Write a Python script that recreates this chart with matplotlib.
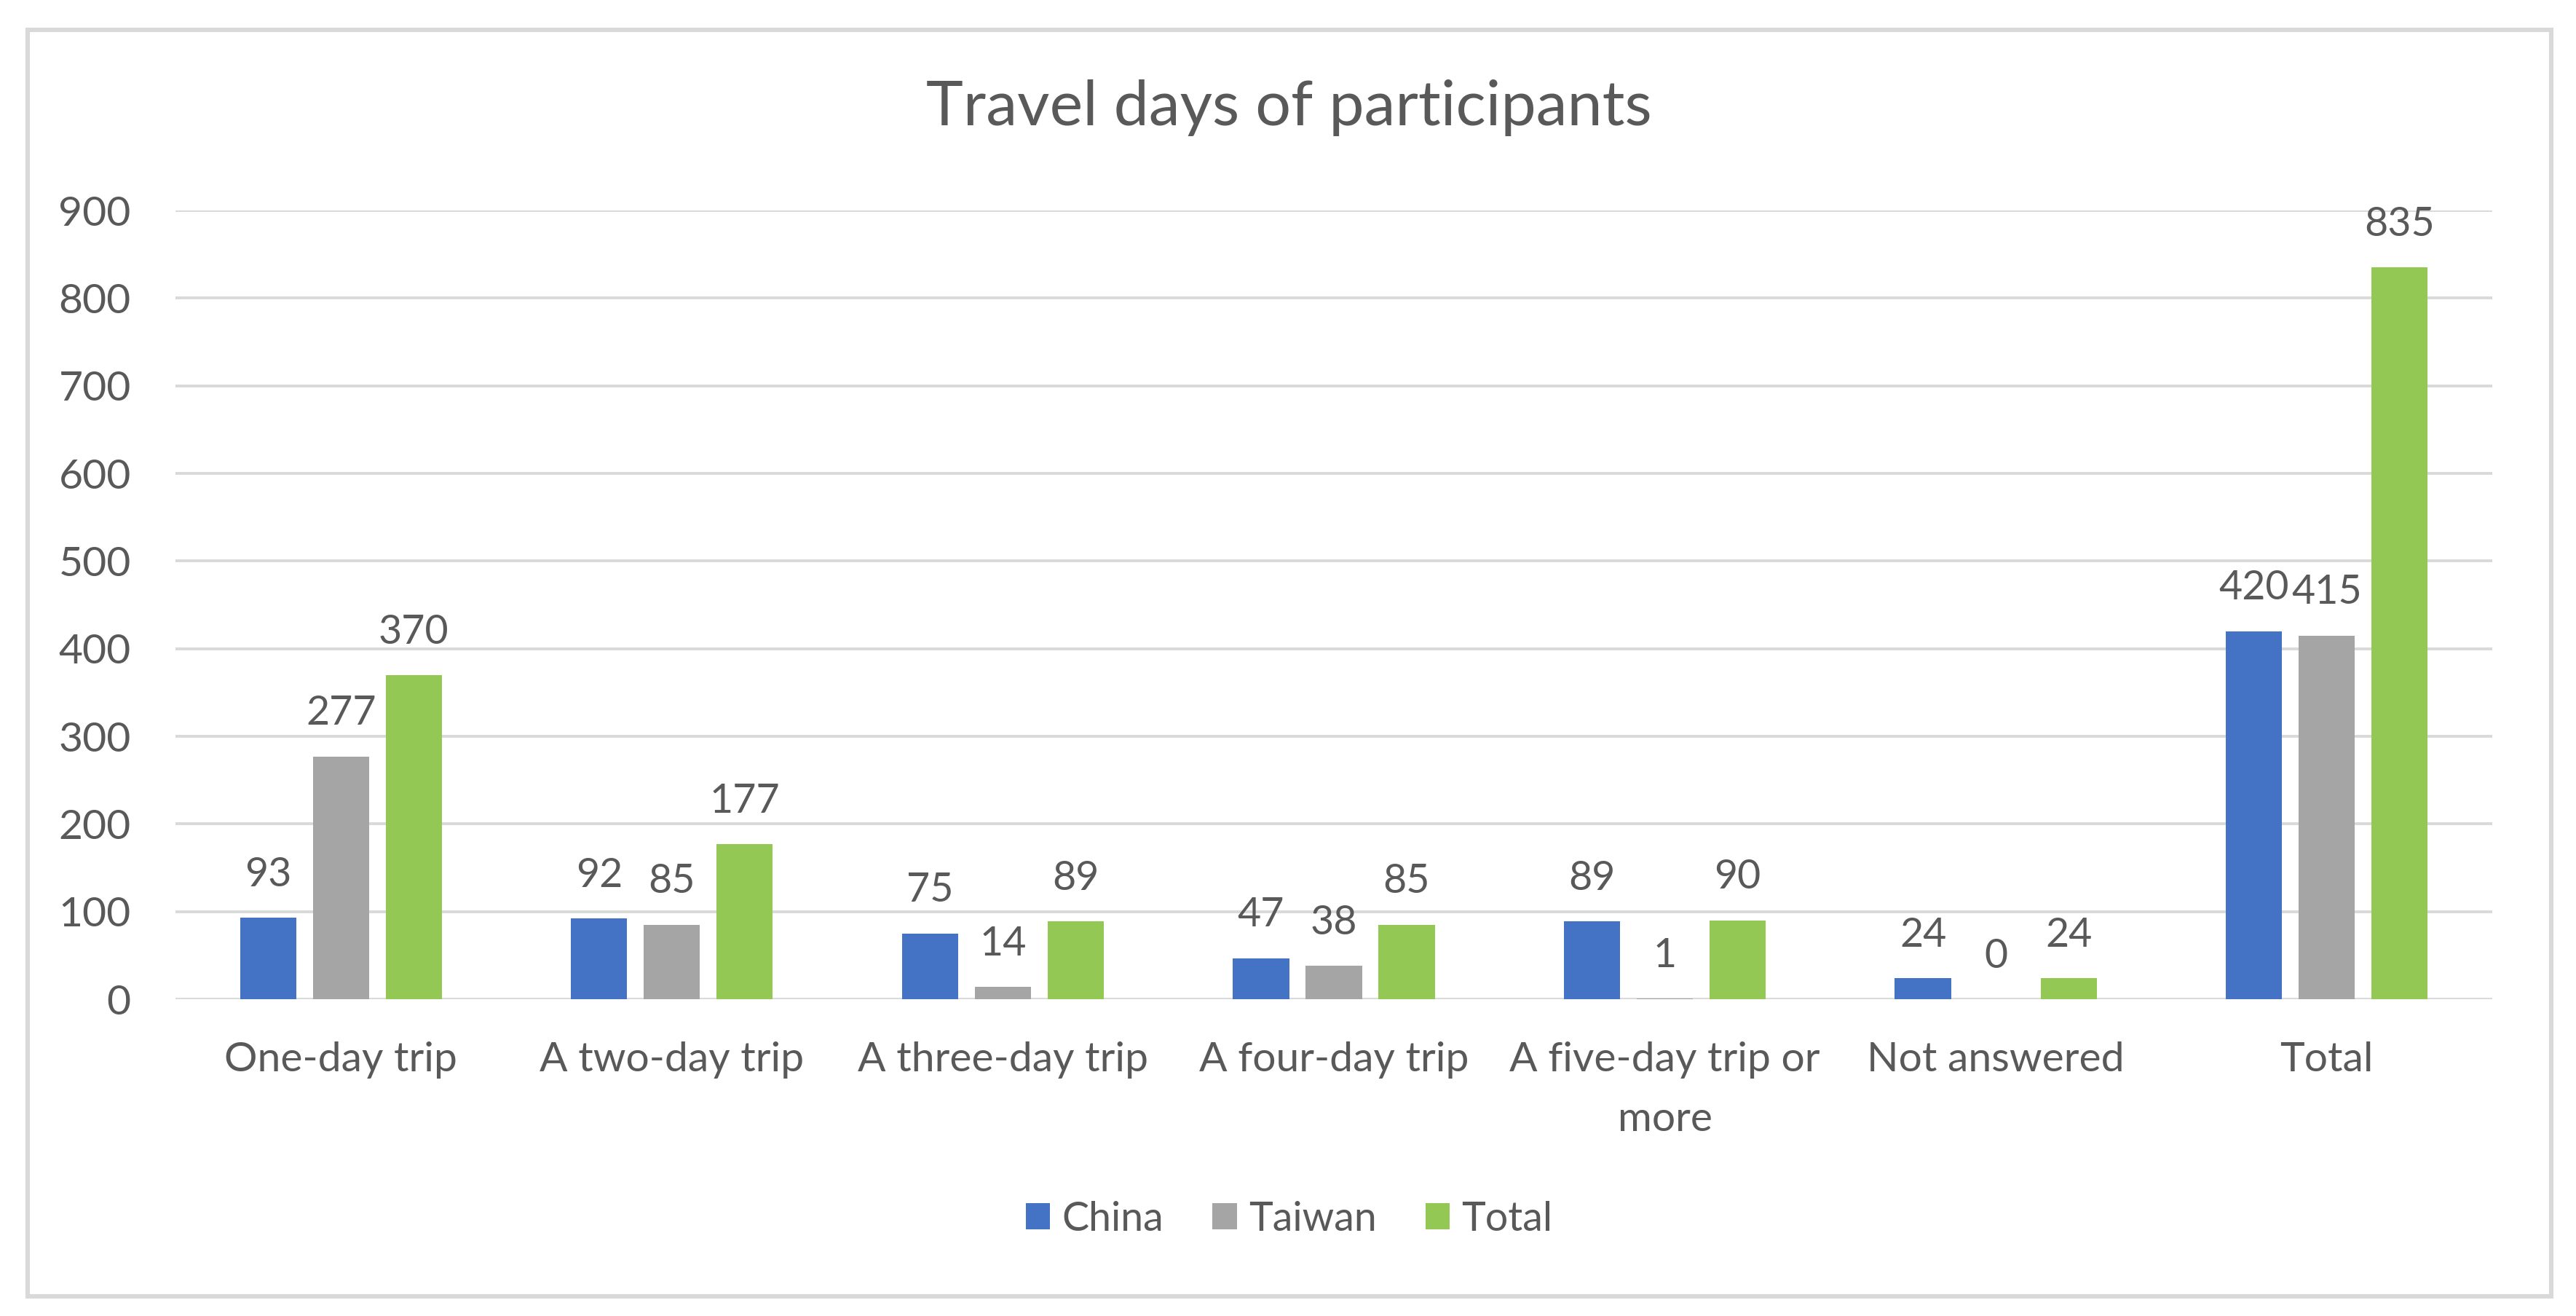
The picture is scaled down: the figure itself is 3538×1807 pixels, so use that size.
import matplotlib
matplotlib.use("Agg")
from matplotlib import pyplot as plt
from matplotlib.patches import Rectangle
import numpy as np

plt.rcParams['font.family'] = ['Lato', 'DejaVu Sans']

categories = ["One-day trip", "A two-day trip", "A three-day trip", "A four-day trip",
              "A five-day trip or\nmore", "Not answered", "Total"]
china = [93, 92, 75, 47, 89, 24, 420]
taiwan = [277, 85, 14, 38, 1, 0, 415]
total = [370, 177, 89, 85, 90, 24, 835]
yticks = [0, 100, 200, 300, 400, 500, 600, 700, 800, 900]

text_color = "#595959"
grid_color = "#D9D9D9"

fig = plt.figure(figsize=(3538 / 200, 1807 / 200), dpi=200)
ax = fig.add_axes([0.0681, 0.2407, 0.8994, 0.5993])

x = np.arange(len(categories))
w = .17
off = .22
series = [("China", china, "#4472C4"), ("Taiwan", taiwan, "#A5A5A5"), ("Total", total, "#92C853")]
for i, (name, vals, col) in enumerate(series):
    bars = ax.bar(x + (i - 1) * off, vals, w, color=col, label=name, zorder=3)
    ax.bar_label(bars, labels=[str(v) for v in vals], padding=12, fontsize=20, color=text_color)

ax.set_xlim(-.5, len(categories) - .5)
ax.set_ylim(0, 900)
ax.set_yticks(yticks)
ax.yaxis.grid(True, color=grid_color, linewidth=1.4, zorder=0)
ax.set_axisbelow(True)
for s in ax.spines.values():
    s.set_visible(False)
ax.tick_params(axis="both", length=0, labelsize=20.5, labelcolor=text_color)
ax.tick_params(axis="y", pad=22)
ax.tick_params(axis="x", pad=21)
ax.set_xticks(x)
ax.set_xticklabels(categories, linespacing=1.75)

fig.text(0.5005, 0.918, "Travel days of participants", ha="center", va="center",
         fontsize=31, color=text_color)

ax.legend(loc="center", bbox_to_anchor=(0.5005, 0.0736), bbox_transform=fig.transFigure,
          ncol=3, frameon=False, fontsize=20, labelcolor=text_color,
          handlelength=0.6, handleheight=0.6, handletextpad=0.3, columnspacing=1.2)

fig.patches.append(Rectangle((38 / 3538, 1 - 1780 / 1807), (3504 - 38) / 3538, (1780 - 41) / 1807,
                             transform=fig.transFigure, fill=False, edgecolor=grid_color, linewidth=2.2))

fig.savefig("out.png", dpi=200, facecolor="white")
